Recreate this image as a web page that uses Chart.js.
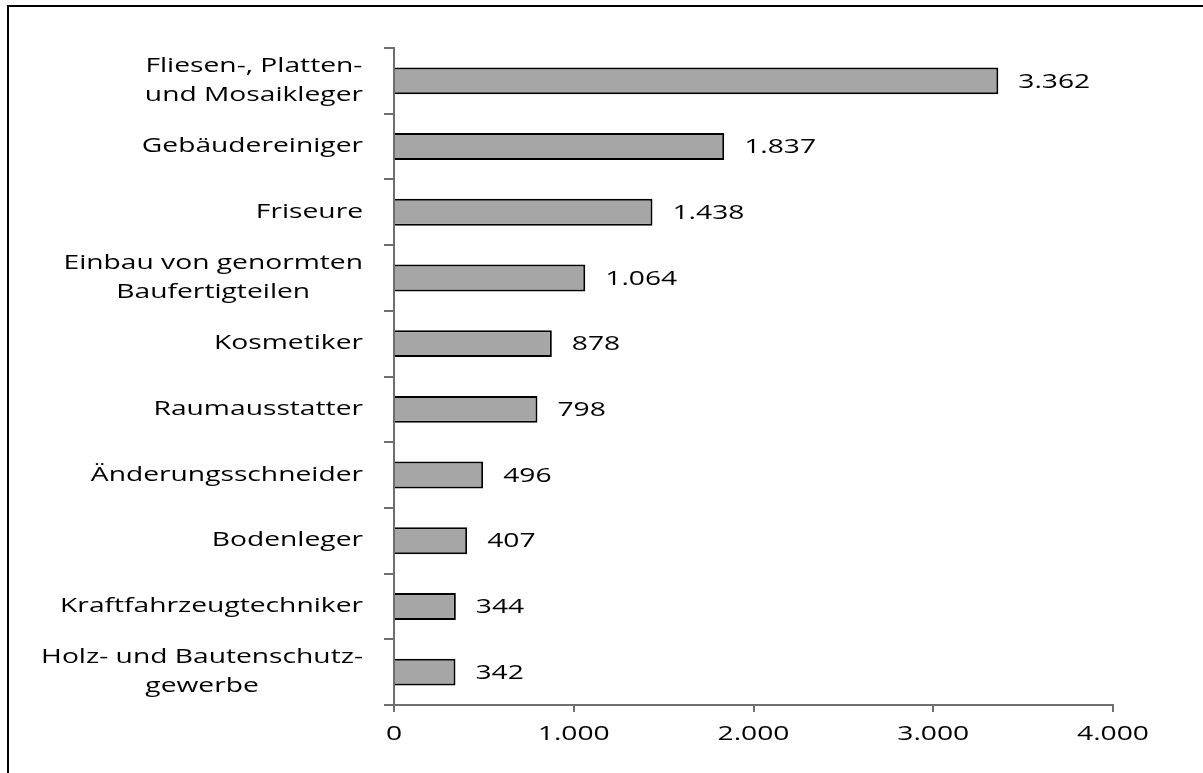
<!DOCTYPE html>
<html>
<head>
<meta charset="utf-8">
<script src="https://cdn.jsdelivr.net/npm/chart.js@4.4.0/dist/chart.umd.min.js"></script>
<style>
  html, body { margin: 0; padding: 0; background: #fff; overflow: hidden; }
  #frame {
    position: absolute; left: 7px; top: 5px; width: 1400px; height: 1000px;
    border-top: 2px solid #000; border-left: 2px solid #000;
  }
  #chart { position: absolute; left: 0; top: 0; }
</style>
</head>
<body>
<div id="frame"></div>
<canvas id="chart" width="1203" height="773"></canvas>
<script>
const categories = [
  ["Fliesen-, Platten-", "und Mosaikleger"],
  "Gebäudereiniger",
  "Friseure",
  ["Einbau von genormten", "Baufertigteilen"],
  "Kosmetiker",
  "Raumausstatter",
  "Änderungsschneider",
  "Bodenleger",
  "Kraftfahrzeugtechniker",
  ["Holz- und Bautenschutz-", "gewerbe"],
];
const values = [3362, 1837, 1438, 1064, 878, 798, 496, 407, 344, 342];
const xTicks = [0, 1000, 2000, 3000, 4000];

const FONT = "20px 'Open Sans'";
const SX = 1.41; // the source text is drawn horizontally stretched
const AXIS_GREY = "#6e6e6e";

// German thousands separator
function fmt(n) {
  return String(n).replace(/\B(?=(\d{3})+(?!\d))/g, ".");
}

function stretchText(ctx, text, x, y, align) {
  ctx.save();
  ctx.translate(x, y);
  ctx.scale(SX, 1);
  ctx.textAlign = align;
  ctx.fillText(text, 0, 0);
  ctx.restore();
}

const labelPlugin = {
  id: "labels",
  afterDraw(chart) {
    const ctx = chart.ctx;
    const xScale = chart.scales.x;
    const yScale = chart.scales.y;
    ctx.save();
    ctx.font = FONT;
    ctx.fillStyle = "#000";
    ctx.textBaseline = "middle";

    // category labels: block right aligned, lines centred in the block
    const right = 363;
    const lineH = 29;
    categories.forEach((label, i) => {
      const lines = Array.isArray(label) ? label : [label];
      const w = Math.max(...lines.map((l) => ctx.measureText(l).width)) * SX;
      const cx = right - w / 2;
      const y0 = yScale.getPixelForValue(i) - ((lines.length - 1) * lineH) / 2;
      lines.forEach((l, k) => stretchText(ctx, l, cx, y0 + k * lineH, "center"));
    });

    // value labels right of the bars
    chart.getDatasetMeta(0).data.forEach((bar, i) => {
      stretchText(ctx, fmt(values[i]), bar.x + 20, bar.y + 1, "left");
    });

    // x tick labels
    xTicks.forEach((v) => {
      stretchText(ctx, fmt(v), xScale.getPixelForValue(v), xScale.top + 29, "center");
    });
    ctx.restore();
  },
};

new Chart(document.getElementById("chart").getContext("2d"), {
  type: "bar",
  data: {
    labels: categories,
    datasets: [
      {
        data: values,
        backgroundColor: "#a6a6a6",
        borderColor: "#000",
        borderWidth: 2,
        barPercentage: 0.41,
        categoryPercentage: 1,
      },
    ],
  },
  options: {
    indexAxis: "y",
    responsive: false,
    animation: false,
    devicePixelRatio: 1,
    layout: { padding: { top: 48, right: 90, left: 0, bottom: 0 } },
    plugins: {
      legend: { display: false },
      tooltip: { enabled: false },
    },
    scales: {
      x: {
        min: 0,
        max: 4000,
        afterBuildTicks: (scale) => {
          scale.ticks = xTicks.map((v) => ({ value: v }));
        },
        afterFit: (scale) => {
          scale.height = 68;
        },
        border: { color: AXIS_GREY, width: 2 },
        grid: {
          drawOnChartArea: false,
          color: AXIS_GREY,
          lineWidth: 2,
          tickLength: 7,
        },
        ticks: { display: false },
      },
      y: {
        afterFit: (scale) => {
          scale.width = 394;
        },
        border: { color: AXIS_GREY, width: 2 },
        grid: {
          drawOnChartArea: false,
          color: AXIS_GREY,
          lineWidth: 2,
          tickLength: 10,
        },
        ticks: { display: false },
      },
    },
  },
  plugins: [labelPlugin],
});
</script>
</body>
</html>
